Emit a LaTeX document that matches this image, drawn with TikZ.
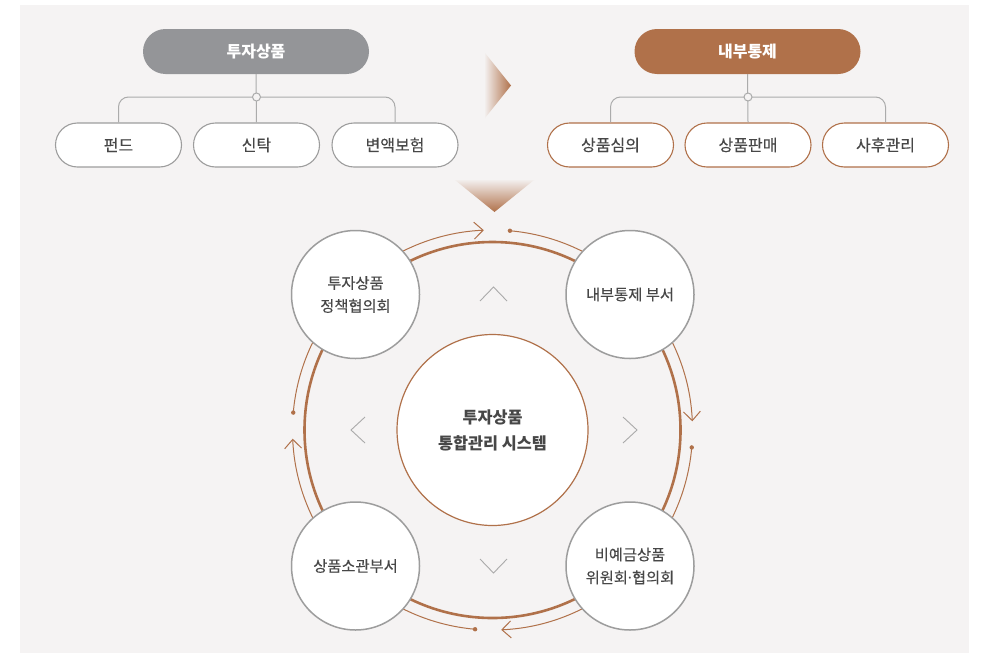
\documentclass[tikz,border=0pt]{standalone}
\usepackage{fontspec}
\setmainfont{Noto Sans CJK KR}[UprightFeatures={FakeBold=0.25}]
\newfontfamily\dotfont{Noto Sans}
\usetikzlibrary{arrows.meta,calc}
\definecolor{panel}{HTML}{F5F3F3}
\definecolor{brn}{HTML}{B0714A}
\definecolor{gry}{HTML}{949598}
\definecolor{txt}{HTML}{474747}
\definecolor{edgegray}{HTML}{9D9D9D}
\definecolor{conngray}{HTML}{ABABAB}
\definecolor{chev}{HTML}{AAAAAA}
\begin{document}
\begin{tikzpicture}[x=1pt,y=-1pt,
  parentbox/.style={rectangle, rounded corners=22.5pt, minimum width=226pt, minimum height=45pt,
    inner sep=0pt, text=white, font=\bfseries\fontsize{16}{18}\selectfont},
  childbox/.style={rectangle, rounded corners=22pt, minimum width=126pt, minimum height=44pt,
    inner sep=0pt, fill=white, line width=1.1pt, text=txt, font=\fontsize{16}{18}\selectfont},
  conn/.style={draw=conngray, line width=1pt},
  junc/.style={circle, draw=conngray, fill=panel, line width=1pt, minimum size=8pt, inner sep=0pt},
  smallcirc/.style={circle, minimum size=128pt, inner sep=0pt, draw=edgegray, line width=1.5pt,
    fill=white, align=center, text=txt, font=\fontsize{15.3}{23}\selectfont},
  centercirc/.style={circle, minimum size=191pt, inner sep=0pt, draw=brn, line width=1.2pt,
    fill=white, align=center, text=txt, font=\bfseries\fontsize{16.3}{26}\selectfont},
  outerarc/.style={draw=brn, line width=1pt},
  chevron/.style={draw=chev, line width=0.9pt},
  tiparrow/.style={-{Straight Barb[length=9pt,width=17pt]}}
]
\useasboundingbox (0,0) rectangle (981,653);
\fill[white] (0,0) rectangle (981,653);
\fill[panel] (20,5) rectangle (969,653);

% ---------- left tree ----------
\node[parentbox, fill=gry] (p1) at (256,51.5) {투자상품};
\node[childbox, draw=edgegray] (a1) at (118.5,145) {펀드};
\node[childbox, draw=edgegray] (a2) at (256.5,145) {신탁};
\node[childbox, draw=edgegray] (a3) at (395,145) {변액보험};
\coordinate (j1) at (256.5,97);
\draw[conn] (p1.south) -- (a2.north);
\draw[conn, rounded corners=10pt] (a1.north) |- (j1) -| (a3.north);
\node[junc] (jc1) at (j1) {};

% ---------- right tree ----------
\node[parentbox, fill=brn] (p2) at (747.5,51.5) {내부통제};
\node[childbox, draw=brn] (b1) at (610.5,145) {상품심의};
\node[childbox, draw=brn] (b2) at (748,145) {상품판매};
\node[childbox, draw=brn] (b3) at (885.5,145) {사후관리};
\coordinate (j2) at (748,97);
\draw[conn] (p2.south) -- (b2.north);
\draw[conn, rounded corners=10pt] (b1.north) |- (j2) -| (b3.north);
\node[junc] (jc2) at (j2) {};

% ---------- gradient triangles ----------
\shade[left color=brn!4!panel, right color=brn] (485,53) -- (485,118) -- (511,85.5) -- cycle;
\shade[top color=brn!4!panel, bottom color=brn] (455,180) -- (534,180) -- (494.5,212) -- cycle;

% ---------- cycle ----------
\coordinate (C) at (492.5,430);
\foreach \m in {-90,0,90,180} {
  \draw[outerarc, tiparrow] ($(C)+(\m-45:200)$) arc[start angle=\m-45, end angle=\m-2.5, radius=200];
  \draw[outerarc] ($(C)+(\m+5:200)$) arc[start angle=\m+5, end angle=\m+45, radius=200];
  \fill[brn] ($(C)+(\m+5:200)$) circle (2.2pt);
}
\draw[brn, line width=2.6pt] (C) circle (188pt);

\node[smallcirc] (tl) at (355.5,294.5) {투자상품\\정책협의회};
\node[smallcirc] (tr) at (630,294.5) {내부통제 부서};
\node[smallcirc] (bl) at (355.5,566) {상품소관부서};
\node[smallcirc] (br) at (630,566) {비예금상품\\위원회{\dotfont·}협의회};
\node[centercirc] (ctr) at (C) {투자상품\\통합관리 시스템};

% ---------- chevrons ----------
\draw[chevron] (480,301) -- (493.5,287) -- (507,301);
\draw[chevron] (480,559) -- (493.5,573) -- (507,559);
\draw[chevron] (365,417) -- (351,430) -- (365,443);
\draw[chevron] (623,417) -- (637,430) -- (623,443);
\end{tikzpicture}
\end{document}
